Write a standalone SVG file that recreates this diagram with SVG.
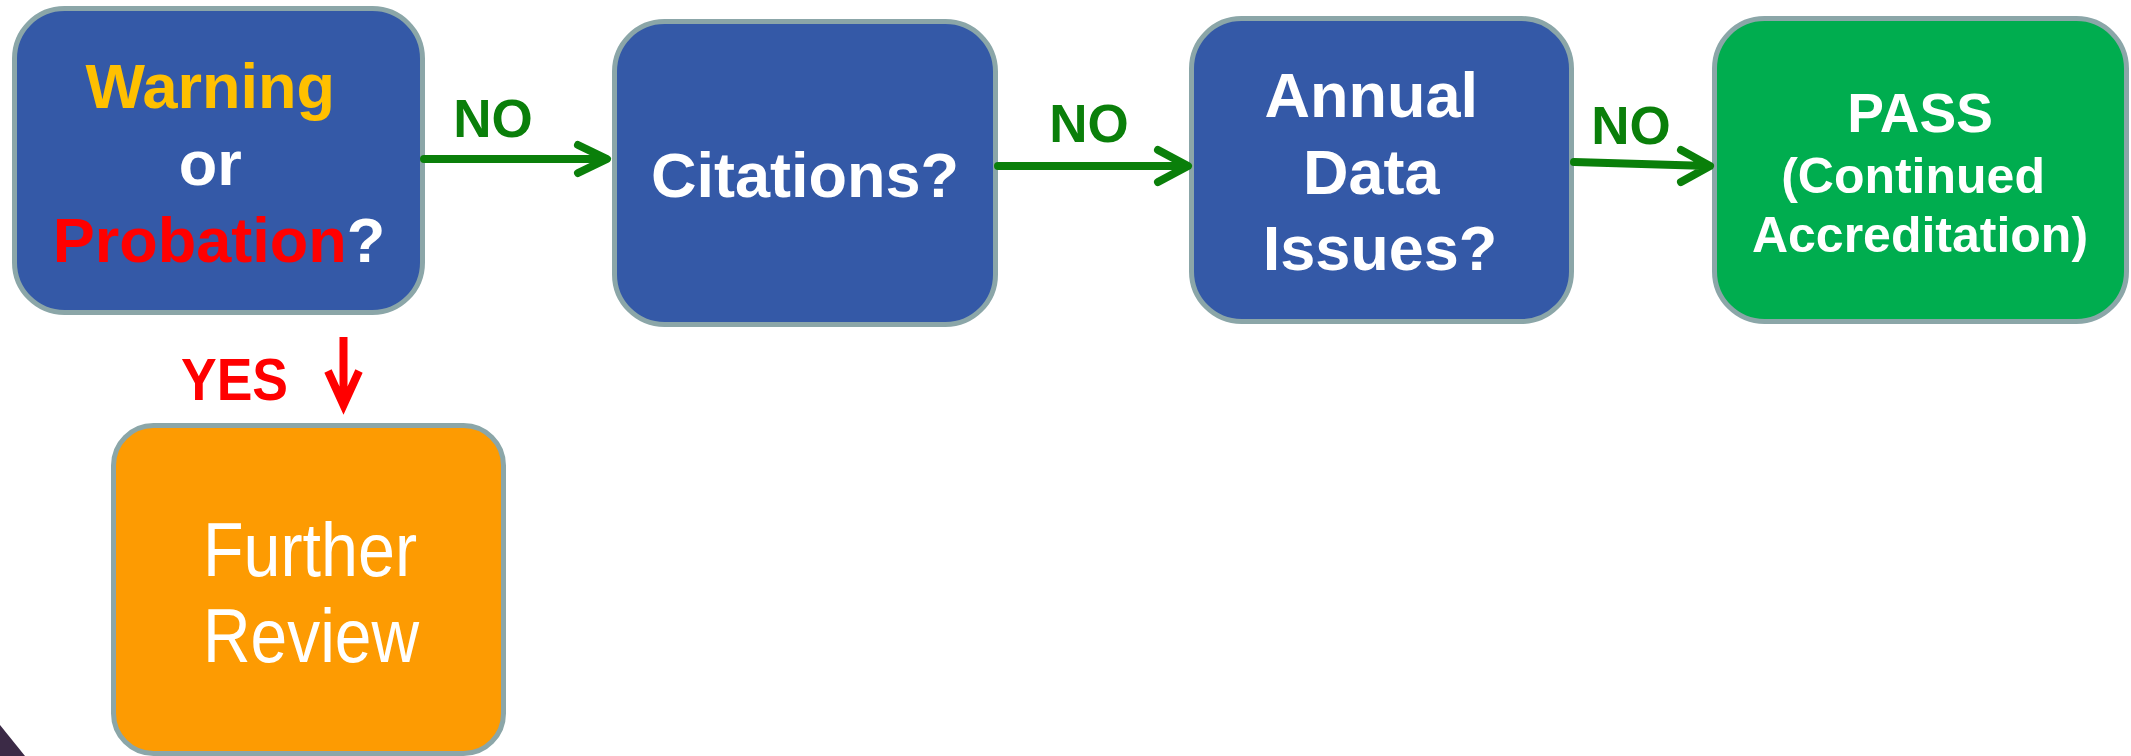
<svg xmlns="http://www.w3.org/2000/svg" width="2131" height="756" viewBox="0 0 2131 756">
  <style>
    .box { stroke: #8ba6a8; stroke-width: 5; }
    .blue { fill: #3459a7; }
    .green { fill: #00ad4f; }
    .orange { fill: #fd9b02; }
    .t { font-family: "Liberation Sans", Arial, sans-serif; font-weight: bold; text-anchor: middle; fill: #ffffff; }
    .no { font-family: "Liberation Sans", Arial, sans-serif; font-weight: bold; text-anchor: middle; fill: #0a7f0a; font-size: 53px; }
    .conn { stroke: #0a7f0a; stroke-width: 8; fill: none; stroke-linecap: round; stroke-linejoin: round; }
  </style>

  <rect width="2131" height="756" fill="#ffffff"/>
  <!-- dark corner fragment at lower left -->
  <polygon points="0,725 25,756 0,756" fill="#3b2a46"/>

  <g id="node-warning">
    <rect class="box blue" x="14.5" y="8.5" width="408" height="304" rx="50" ry="50"/>
    <text class="t" x="219" font-size="63">
      <tspan x="219" y="108" fill="#ffc000">Warning</tspan>
      <tspan x="219" y="185">or</tspan>
      <tspan x="219" y="262"><tspan fill="#ff0000">Probation</tspan>?</tspan>
    </text>
  </g>

  <g id="node-citations">
    <rect class="box blue" x="614.5" y="21.5" width="381" height="303" rx="50" ry="50"/>
    <text class="t" x="805" y="197" font-size="63">Citations?</text>
  </g>

  <g id="node-annual">
    <rect class="box blue" x="1191.5" y="18.5" width="380" height="303" rx="50" ry="50"/>
    <text class="t" font-size="63">
      <tspan x="1380" y="117">Annual</tspan>
      <tspan x="1380" y="194">Data</tspan>
      <tspan x="1380" y="270">Issues?</tspan>
    </text>
  </g>

  <g id="node-pass">
    <rect class="box green" x="1714.5" y="18.5" width="412" height="303" rx="50" ry="50"/>
    <text class="t" x="1920" y="132" font-size="55">PASS</text>
    <text class="t" font-size="50">
      <tspan x="1920" y="193">(Continued</tspan>
      <tspan x="1920" y="252">Accreditation)</tspan>
    </text>
  </g>

  <g id="node-review">
    <rect class="box orange" x="113.5" y="425.5" width="390" height="328" rx="40" ry="40"/>
    <text font-family="'Liberation Sans', Arial, sans-serif" font-size="76" fill="#ffffff">
      <tspan x="203" y="576" textLength="214" lengthAdjust="spacingAndGlyphs">Further</tspan>
      <tspan x="203" y="662" textLength="216" lengthAdjust="spacingAndGlyphs">Review</tspan>
    </text>
  </g>

  <g id="connectors">
    <path class="conn" d="M424,159 H606 M578,145 L607,159 L578,173"/>
    <text class="no" x="493" y="137">NO</text>

    <path class="conn" d="M998,166 H1187 M1158,150 L1188,166 L1158,182"/>
    <text class="no" x="1089" y="142">NO</text>

    <path class="conn" d="M1574,162 L1709,166 M1681,150 L1710,166 L1681,182"/>
    <text class="no" x="1631" y="144">NO</text>

    <text x="181" y="400" font-family="'Liberation Sans', Arial, sans-serif" font-weight="bold" font-size="60" fill="#ff0000" textLength="107" lengthAdjust="spacingAndGlyphs">YES</text>
    <path d="M343.5,337 V400 M328,371 L343.5,405 L359,371" stroke="#ff0000" stroke-width="8" fill="none" stroke-linejoin="miter"/>
  </g>
</svg>
